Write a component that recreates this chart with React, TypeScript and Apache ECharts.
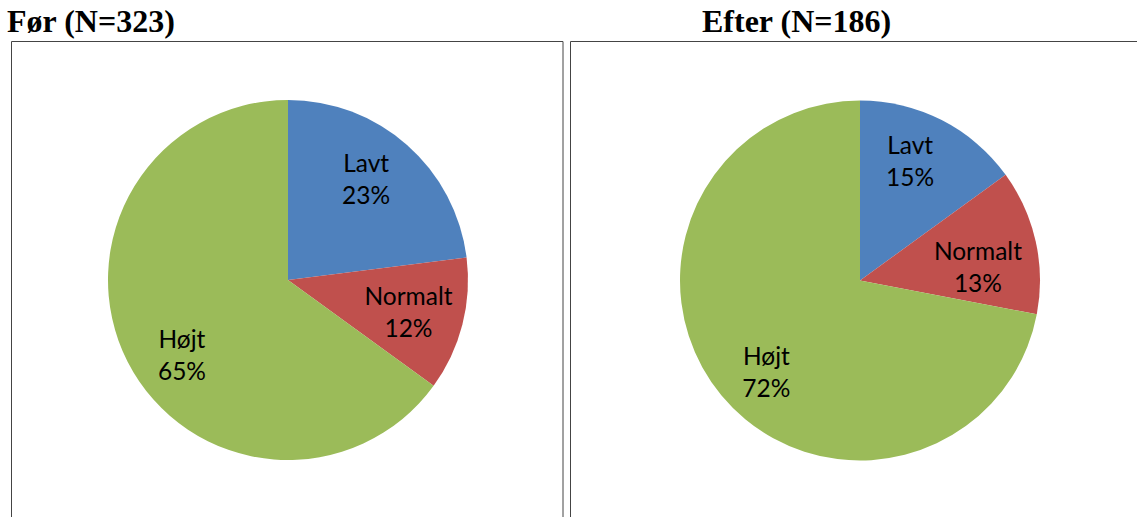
import React, { useEffect, useRef } from "react";
import * as echarts from "echarts";

const categories = ["Lavt", "Normalt", "Højt"];
const beforeValues = [23, 12, 65];
const afterValues = [15, 13, 72];
const chartTitles = ["Før (N=323)", "Efter (N=186)"];
const colors = ["#4F81BD", "#C0504D", "#9BBB59"];

// label nudges [dx, dy] to mimic Excel's label placement
const beforeNudge = [
  [-6.5, -5],
  [-3.5, 0],
  [8, 16],
];
const afterNudge = [
  [-8, -5.5],
  [-7, 14],
  [5, 9.5],
];

const labelFont = {
  fontFamily: "Lato",
  fontSize: 24.5,
  lineHeight: 32,
  color: "#000",
};

function buildPies(values: number[], nudge: number[][], center: number[]) {
  const base = {
    type: "pie",
    center,
    startAngle: 90,
    clockwise: true,
    avoidLabelOverlap: false,
    labelLine: { show: false },
  };
  const solid = {
    ...base,
    radius: [0, 180],
    silent: true,
    label: { show: false },
    itemStyle: { borderWidth: 0 },
    data: categories.map((c, i) => ({
      name: c,
      value: values[i],
      itemStyle: { color: colors[i] },
    })),
  };
  const labels = {
    ...base,
    radius: [0, 250],
    silent: true,
    z: 5,
    itemStyle: { color: "rgba(0,0,0,0)", borderWidth: 0 },
    label: {
      show: true,
      position: "inside",
      formatter: "{b}\n{d}%",
      ...labelFont,
    },
    labelLayout: (params: any) => ({
      dx: nudge[params.dataIndex][0],
      dy: nudge[params.dataIndex][1],
    }),
    data: categories.map((c, i) => ({
      name: c,
      value: values[i],
    })),
  };
  return [solid, labels];
}

export default function App() {
  const ref = useRef<HTMLDivElement>(null);
  useEffect(() => {
    if (!ref.current) return;
    const chart = echarts.init(ref.current, null, { renderer: "svg" });
    const titleStyle = {
      fontFamily: "Liberation Serif",
      fontWeight: "bold",
      fontSize: 32,
      color: "#000",
    };
    chart.setOption({
      animation: false,
      backgroundColor: "#fff",
      title: [
        { text: chartTitles[0], left: 7, top: 5, padding: 0, textStyle: titleStyle },
        { text: chartTitles[1], left: 702, top: 5, padding: 0, textStyle: titleStyle },
      ],
      graphic: [
        {
          type: "rect",
          shape: { x: 11.5, y: 41.5, width: 551.5, height: 520 },
          style: { fill: "none", stroke: "#444", lineWidth: 1 },
          silent: true,
        },
        {
          type: "rect",
          shape: { x: 570.5, y: 41.5, width: 620, height: 520 },
          style: { fill: "none", stroke: "#444", lineWidth: 1 },
          silent: true,
        },
      ],
      series: [
        ...buildPies(beforeValues, beforeNudge, [288, 280]),
        ...buildPies(afterValues, afterNudge, [860, 280.5]),
      ],
    });
    return () => chart.dispose();
  }, []);
  return (
    <div
      ref={ref}
      style={{ position: "absolute", left: 0, top: 0, width: 1137, height: 517 }}
    />
  );
}
